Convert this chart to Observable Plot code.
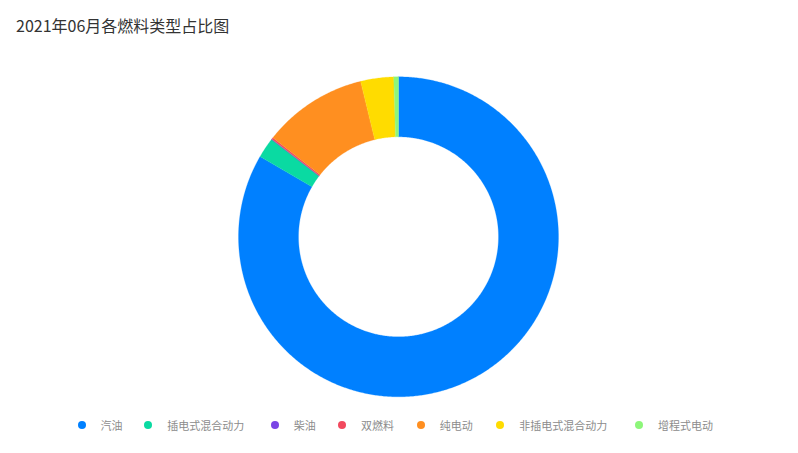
<!DOCTYPE html>
<html>
<head>
<meta charset="utf-8">
<script src="https://cdn.jsdelivr.net/npm/d3@7"></script>
<script src="https://cdn.jsdelivr.net/npm/@observablehq/plot@0.6"></script>
<style>
  html, body { margin: 0; padding: 0; background: #fff; }
  #wrap { position: relative; width: 798px; height: 453px; overflow: hidden; font-family: "Noto Sans CJK SC", "Noto Sans", sans-serif; }
  #title { position: absolute; left: 16px; top: 17px; font-size: 16px; color: #333; line-height: 1; white-space: nowrap; }
  #chart { position: absolute; left: 0; top: 0; }
  #legend { position: absolute; left: 0; top: 418px; width: 798px; height: 14px; }
  .item { position: absolute; top: 0; height: 14px; display: flex; align-items: center; font-size: 11px; color: #8c8c8c; white-space: nowrap; }
  .dot { width: 8px; height: 8px; border-radius: 50%; margin-right: 15px; margin-left: -4px; }
</style>
</head>
<body>
<div id="wrap">
  <div id="chart"></div>
  <div id="title">2021年06月各燃料类型占比图</div>
  <div id="legend"></div>
</div>
<script>
const titleText = "2021年06月各燃料类型占比图";
const categories = ["汽油", "插电式混合动力", "柴油", "双燃料", "纯电动", "非插电式混合动力", "增程式电动"];
const shares = [83.36, 2.06, 0.04, 0.18, 10.56, 3.33, 0.47];
const colors = ["#0080FF", "#0ADAA2", "#7A45E5", "#F2495E", "#FF8F20", "#FFDC00", "#8DF67A"];
const legendX = [81.5, 148.3, 274.7, 341.9, 420.8, 500.2, 638.9];

const W = 798, H = 453;
const cx = 398, cy = 236.3, R = 160, r = 100;

const pie = d3.pie().sort(null).value(d => d.value)(categories.map((name, i) => ({name, value: shares[i]})));

// Build polygon points for each slice (angles from 12 o'clock clockwise)
const pts = [];
for (const s of pie) {
  const a0 = s.startAngle, a1 = s.endAngle;
  const n = Math.max(2, Math.ceil((a1 - a0) / (Math.PI / 360)));
  const outer = [], inner = [];
  for (let k = 0; k <= n; k++) {
    const a = a0 + (a1 - a0) * k / n;
    outer.push({name: s.data.name, x: R * Math.sin(a), y: -R * Math.cos(a)});
    inner.push({name: s.data.name, x: r * Math.sin(a), y: -r * Math.cos(a)});
  }
  pts.push(...outer, ...inner.reverse());
}

const plot = Plot.plot({
  width: W,
  height: H,
  margin: 0,
  x: {domain: [-cx, W - cx], range: [0, W], axis: null},
  y: {domain: [-cy, H - cy], range: [0, H], axis: null},
  color: {domain: categories, range: colors},
  marks: [
    Plot.line(pts, {x: "x", y: "y", z: "name", fill: "name", stroke: "name", strokeWidth: 0.25, curve: "linear-closed"})
  ]
});
document.getElementById("chart").appendChild(plot);

const legend = document.getElementById("legend");
categories.forEach((c, i) => {
  const it = document.createElement("div");
  it.className = "item";
  it.style.left = legendX[i] + "px";
  const dot = document.createElement("span");
  dot.className = "dot";
  dot.style.background = colors[i];
  const t = document.createElement("span");
  t.textContent = c;
  it.appendChild(dot);
  it.appendChild(t);
  legend.appendChild(it);
});
</script>
</body>
</html>
